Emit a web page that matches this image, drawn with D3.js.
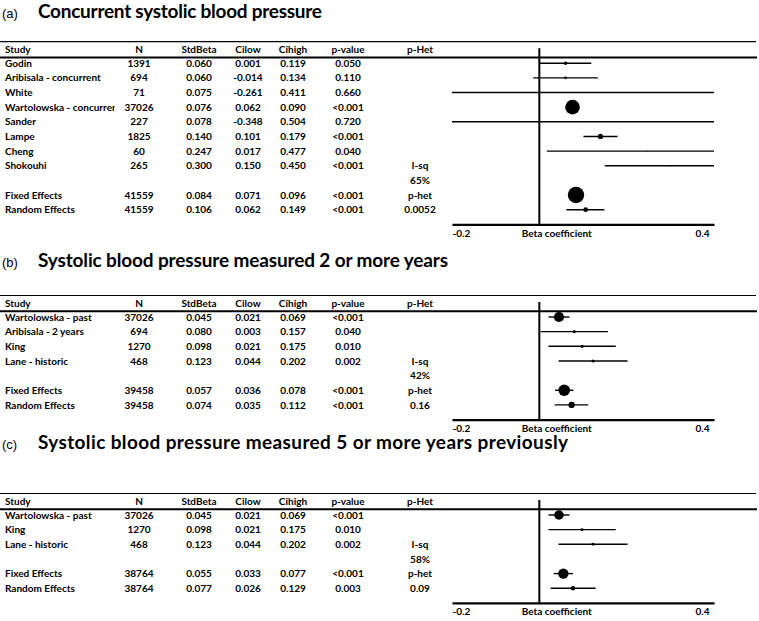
<!DOCTYPE html>
<html><head><meta charset="utf-8">
<script src="https://cdn.jsdelivr.net/npm/d3@7"></script>
<style>body{margin:0;background:#fff} svg{display:block}</style>
</head><body><svg id="c" width="759" height="621"></svg>
<script>
// ---------- DATA ----------
const headers = ["Study","N","StdBeta","Cilow","Cihigh","p-value","p-Het"];
const panelLabels = ["(a)","(b)","(c)"];
const panelTitles = ["Concurrent systolic blood pressure",
  "Systolic blood pressure measured 2 or more years",
  "Systolic blood pressure measured 5 or more years previously"];
const tickValues = [-0.2, 0.4];
const tickLabels = ["-0.2", "0.4"];
const axisTitle = "Beta coefficient";

// Panel (a)
const studiesA = ["Godin","Aribisala - concurrent","White","Wartolowska - concurrent","Sander","Lampe","Cheng","Shokouhi","","Fixed Effects","Random Effects"];
const nA    = [1391,694,71,37026,227,1825,60,265,null,41559,41559];
const betaA = [0.060,0.060,0.075,0.076,0.078,0.140,0.247,0.300,null,0.084,0.106];
const lowA  = [0.001,-0.014,-0.261,0.062,-0.348,0.101,0.017,0.150,null,0.071,0.062];
const highA = [0.119,0.134,0.411,0.090,0.504,0.179,0.477,0.450,null,0.096,0.149];
const pA    = ["0.050","0.110","0.660","<0.001","0.720","<0.001","0.040","<0.001","","<0.001","<0.001"];
const hetA  = ["","","","","","","","I-sq","65%","p-het","0.0052"];

// Panel (b)
const studiesB = ["Wartolowska - past","Aribisala - 2 years","King","Lane - historic","","Fixed Effects","Random Effects"];
const nB    = [37026,694,1270,468,null,39458,39458];
const betaB = [0.045,0.080,0.098,0.123,null,0.057,0.074];
const lowB  = [0.021,0.003,0.021,0.044,null,0.036,0.035];
const highB = [0.069,0.157,0.175,0.202,null,0.078,0.112];
const pB    = ["<0.001","0.040","0.010","0.002","","<0.001","<0.001"];
const hetB  = ["","","","I-sq","42%","p-het","0.16"];

// Panel (c)
const studiesC = ["Wartolowska - past","King","Lane - historic","","Fixed Effects","Random Effects"];
const nC    = [37026,1270,468,null,38764,38764];
const betaC = [0.045,0.098,0.123,null,0.055,0.077];
const lowC  = [0.021,0.021,0.044,null,0.033,0.026];
const highC = [0.069,0.175,0.202,null,0.077,0.129];
const pC    = ["<0.001","0.010","0.002","","<0.001","0.003"];
const hetC  = ["","","I-sq","58%","p-het","0.09"];

// ---------- LAYOUT ----------
const svg = d3.select("#c");
const FONT = "Lato, 'Open Sans', sans-serif";
const colX = [5, 139, 199, 248, 293, 348, 420];
const rowStep = 14.65;
const x = d3.scaleLinear().domain([-0.2, 0.4]).range([452, 714]).clamp(true);

function measure(text, weight, size, family) {
  const t = svg.append("text").attr("font-family", family).attr("font-weight", weight)
    .attr("font-size", size).text(text);
  const w = t.node().getComputedTextLength();
  t.remove();
  return w;
}
const tableSize = 10 * 70 / measure("Random Effects", "bold", 10, FONT);
const titleWidths = [284, 410, 530];
const titleSize = d3.mean(panelTitles, (t, i) => 10 * titleWidths[i] / measure(t, "bold", 10, FONT));
const clipW = 5 + measure("Wartolowska - concurre", "bold", tableSize, FONT) + 2.5;

const panels = [
  {studies: studiesA, n: nA, beta: betaA, low: lowA, high: highA, p: pA, het: hetA, titleY: 18, topY: 41.7, rMax: 8.2},
  {studies: studiesB, n: nB, beta: betaB, low: lowB, high: highB, p: pB, het: hetB, titleY: 267, topY: 295.5, rMax: 5.8},
  {studies: studiesC, n: nC, beta: betaC, low: lowC, high: highC, p: pC, het: hetC, titleY: 449, topY: 493.5, rMax: 5.2}
];

svg.append("defs").append("clipPath").attr("id", "studyClip")
  .append("rect").attr("x", 0).attr("y", 0).attr("width", clipW).attr("height", 621);

panels.forEach((P, pi) => {
  const g = svg.append("g");
  // title
  g.append("text").attr("x", 2).attr("y", P.titleY)
    .attr("font-family", "'Liberation Sans', Arial, sans-serif").attr("font-size", 13)
    .text(panelLabels[pi]);
  g.append("text").attr("x", 38).attr("y", P.titleY)
    .attr("font-family", FONT).attr("font-weight", "bold").attr("font-size", titleSize)
    .attr("textLength", titleWidths[pi]).attr("lengthAdjust", "spacing")
    .text(panelTitles[pi]);

  // table lines
  g.append("line").attr("x1", 0).attr("x2", 756).attr("y1", P.topY).attr("y2", P.topY)
    .attr("stroke", "#000").attr("stroke-width", 1.2);
  const thickY = P.topY + 15.8;
  g.append("line").attr("x1", 0).attr("x2", 757).attr("y1", thickY).attr("y2", thickY)
    .attr("stroke", "#000").attr("stroke-width", 2);

  // headers
  g.selectAll(".hdr").data(headers).join("text")
    .attr("x", (d, i) => colX[i]).attr("y", P.topY + 11)
    .attr("text-anchor", (d, i) => i === 0 ? "start" : "middle")
    .attr("font-family", FONT).attr("font-weight", "bold").attr("font-size", tableSize)
    .text(d => d);

  const rows = P.studies.map((s, i) => ({
    study: s, n: P.n[i], beta: P.beta[i], low: P.low[i], high: P.high[i], p: P.p[i], het: P.het[i],
    y: P.topY + 21.5 + i * rowStep
  }));
  const axisY = rows[rows.length - 1].y + 14.7;

  rows.forEach(r => {
    const cells = [r.study,
      r.n == null ? "" : String(r.n),
      r.beta == null ? "" : r.beta.toFixed(3),
      r.low == null ? "" : r.low.toFixed(3),
      r.high == null ? "" : r.high.toFixed(3),
      r.p, r.het];
    cells.forEach((c, ci) => {
      if (!c) return;
      const t = g.append("text").attr("x", colX[ci]).attr("y", r.y).attr("dy", "0.36em")
        .attr("text-anchor", ci === 0 ? "start" : "middle")
        .attr("font-family", FONT).attr("font-weight", "bold").attr("font-size", tableSize)
        .text(c);
      if (ci === 0) t.attr("clip-path", "url(#studyClip)");
    });
  });

  // forest plot
  const data = rows.filter(r => r.beta != null);
  const weight = d => Math.pow(3.92 / (d.high - d.low), 2);
  const r = d3.scaleSqrt().domain([0, d3.max(data, weight)]).range([0, P.rMax]);

  g.append("line").attr("x1", x(0)).attr("x2", x(0)).attr("y1", P.topY + 6.5).attr("y2", axisY)
    .attr("stroke", "#000").attr("stroke-width", 2);

  g.selectAll(".ci").data(data).join("line")
    .attr("x1", d => x(d.low)).attr("x2", d => x(d.high))
    .attr("y1", d => d.y).attr("y2", d => d.y)
    .attr("stroke", "#000").attr("stroke-width", 1.4);
  g.selectAll(".pt").data(data).join("circle")
    .attr("cx", d => x(d.beta)).attr("cy", d => d.y).attr("r", d => r(weight(d)))
    .attr("fill", "#000");

  // axis
  const ax = g.append("g").attr("transform", `translate(0,${axisY})`)
    .call(d3.axisBottom(x).tickValues(tickValues).tickSize(0).tickSizeOuter(0)
      .tickFormat((d, i) => tickLabels[i]));
  ax.select(".domain").attr("stroke", "#000").attr("stroke-width", 2.2);
  ax.selectAll(".tick text")
    .attr("font-family", FONT).attr("font-weight", "bold").attr("font-size", tableSize)
    .attr("fill", "#000").attr("y", 12.5).attr("dy", 0)
    .attr("text-anchor", (d, i) => i === 0 ? "start" : "end")
    .attr("dx", (d, i) => i === 0 ? 0 : -5);
  g.append("text").attr("x", x(0.04)).attr("y", axisY + 12.5).attr("text-anchor", "middle")
    .attr("font-family", FONT).attr("font-weight", "bold").attr("font-size", tableSize)
    .text(axisTitle);
});
</script></body></html>
